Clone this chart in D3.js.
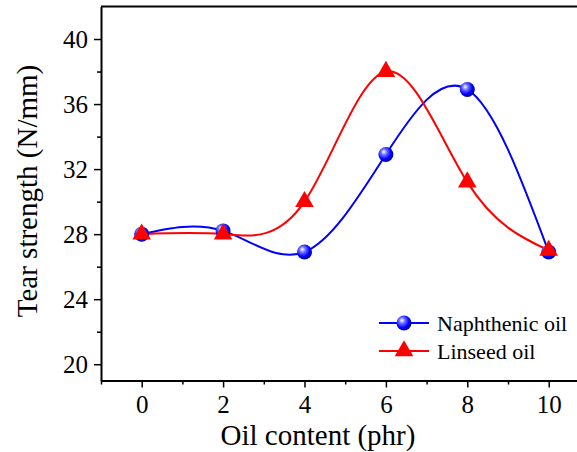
<!DOCTYPE html>
<html>
<head>
<meta charset="utf-8">
<script src="https://cdn.jsdelivr.net/npm/d3@7"></script>
<style>
  html, body { margin: 0; padding: 0; background: #fff; }
  svg { display: block; }
  svg text { font-family: "Liberation Serif", "Times New Roman", serif !important; }
</style>
</head>
<body>
<svg id="chart" width="577" height="452"></svg>
<script>
"use strict";
// data
const oilContent = [0, 2, 4, 6, 8, 10];
const naphthenic = [28.0, 28.2, 26.9, 32.9, 36.9, 26.9];
const linseed = [28.0, 28.0, 30.0, 38.0, 31.2, 27.0];
const xTicks = [0, 2, 4, 6, 8, 10];
const yTicks = [20, 24, 28, 32, 36, 40];
const seriesNames = ["Naphthenic oil", "Linseed oil"];

const FONT = 'Liberation Serif';
const svg = d3.select('#chart').attr('font-family', FONT);
const plotLeft = 101, plotTop = 6.5, plotBottom = 380.5;

const x = d3.scaleLinear().domain([-1, 11]).range([plotLeft, plotLeft + 12 * 40.7]);
const y = d3.scaleLinear().domain([19, 42]).range([plotBottom, plotTop]);

// gradient for sphere markers
const defs = svg.append('defs');
const grad = defs.append('radialGradient')
    .attr('id', 'ball')
    .attr('cx', '40%').attr('cy', '38%').attr('r', '60%')
    .attr('fx', '35%').attr('fy', '32%');
grad.append('stop').attr('offset', '0%').attr('stop-color', '#ffffff');
grad.append('stop').attr('offset', '35%').attr('stop-color', '#6a6aff');
grad.append('stop').attr('offset', '75%').attr('stop-color', '#0000ff');
grad.append('stop').attr('offset', '100%').attr('stop-color', '#0000b0');

// frame line on top
svg.append('line')
    .attr('x1', plotLeft).attr('x2', 577).attr('y1', plotTop).attr('y2', plotTop)
    .attr('stroke', '#000').attr('stroke-width', 2);

// y axis
const yAxis = d3.axisLeft(y).tickValues(yTicks).tickSize(7).tickPadding(6).tickSizeOuter(0);
const yMinor = d3.axisLeft(y).tickValues(d3.range(22, 42, 4)).tickSize(4).tickFormat('').tickSizeOuter(0);
svg.append('g').attr('transform', `translate(${plotLeft},0)`).call(yMinor)
    .call(g => g.select('.domain').remove())
    .selectAll('line').attr('stroke-width', 1.5);
const gy = svg.append('g').attr('transform', `translate(${plotLeft},0)`).call(yAxis)
    .attr('font-family', FONT).attr('font-size', 25);
gy.select('.domain').attr('stroke-width', 2);
gy.selectAll('.tick line').attr('stroke-width', 1.5);
gy.selectAll('text').attr('fill', '#000');

// x axis
const xAxis = d3.axisBottom(x).tickValues(xTicks).tickSize(7).tickPadding(8).tickSizeOuter(0);
const xMinor = d3.axisBottom(x).tickValues(d3.range(-1, 12, 2)).tickSize(4).tickFormat('').tickSizeOuter(0);
svg.append('g').attr('transform', `translate(0,${plotBottom})`).call(xMinor)
    .call(g => g.select('.domain').remove())
    .selectAll('line').attr('stroke-width', 1.5);
const gx = svg.append('g').attr('transform', `translate(0,${plotBottom})`).call(xAxis)
    .attr('font-family', FONT).attr('font-size', 25);
gx.select('.domain').attr('stroke-width', 2);
gx.selectAll('.tick line').attr('stroke-width', 1.5);
gx.selectAll('text').attr('fill', '#000');

// axis titles
svg.append('text')
    .attr('x', 318).attr('y', 445)
    .attr('text-anchor', 'middle')
    .attr('font-family', FONT)
    .attr('font-size', 29)
    .text('Oil content (phr)');
svg.append('text')
    .attr('transform', 'translate(37,191) rotate(-90)')
    .attr('text-anchor', 'middle')
    .attr('font-family', FONT)
    .attr('font-size', 29)
    .text('Tear strength (N/mm)');

// curves
const line = d3.line()
    .x((d, i) => x(oilContent[i]))
    .y(d => y(d))
    .curve(d3.curveNatural);

svg.append('path').datum(naphthenic)
    .attr('d', line).attr('fill', 'none')
    .attr('stroke', '#0000ff').attr('stroke-width', 2);
svg.append('path').datum(linseed)
    .attr('d', line).attr('fill', 'none')
    .attr('stroke', '#ff0000').attr('stroke-width', 2);

const tri = d3.symbol().type(d3.symbolTriangle).size(150);

svg.selectAll('circle.np')
    .data(naphthenic)
    .enter()
    .append('circle')
    .attr('class', 'np')
    .attr('cx', (d, i) => x(oilContent[i]))
    .attr('cy', d => y(d))
    .attr('r', 7.5)
    .attr('fill', 'url(#ball)');

svg.selectAll('path.ls')
    .data(linseed)
    .enter()
    .append('path')
    .attr('class', 'ls')
    .attr('d', tri)
    .attr('transform', (d, i) => `translate(${x(oilContent[i])},${y(d)})`)
    .attr('fill', '#ff0000');

// legend
const legend = svg.append('g').attr('transform', 'translate(379,323)');
legend.append('line').attr('x1', 0).attr('x2', 50).attr('y1', 0).attr('y2', 0)
    .attr('stroke', '#0000ff').attr('stroke-width', 2);
legend.append('circle').attr('cx', 25).attr('cy', 0).attr('r', 7.5).attr('fill', 'url(#ball)');
legend.append('line').attr('x1', 0).attr('x2', 50).attr('y1', 28).attr('y2', 28)
    .attr('stroke', '#ff0000').attr('stroke-width', 2);
legend.append('path').attr('d', tri).attr('transform', 'translate(25,28)').attr('fill', '#ff0000');
legend.selectAll('text.lg')
    .data(seriesNames)
    .enter()
    .append('text')
    .attr('class', 'lg')
    .attr('x', 58)
    .attr('y', (d, i) => i * 28 + 7.5)
    .attr('font-family', FONT)
    .attr('font-size', 22)
    .text(d => d);
</script>
</body>
</html>
